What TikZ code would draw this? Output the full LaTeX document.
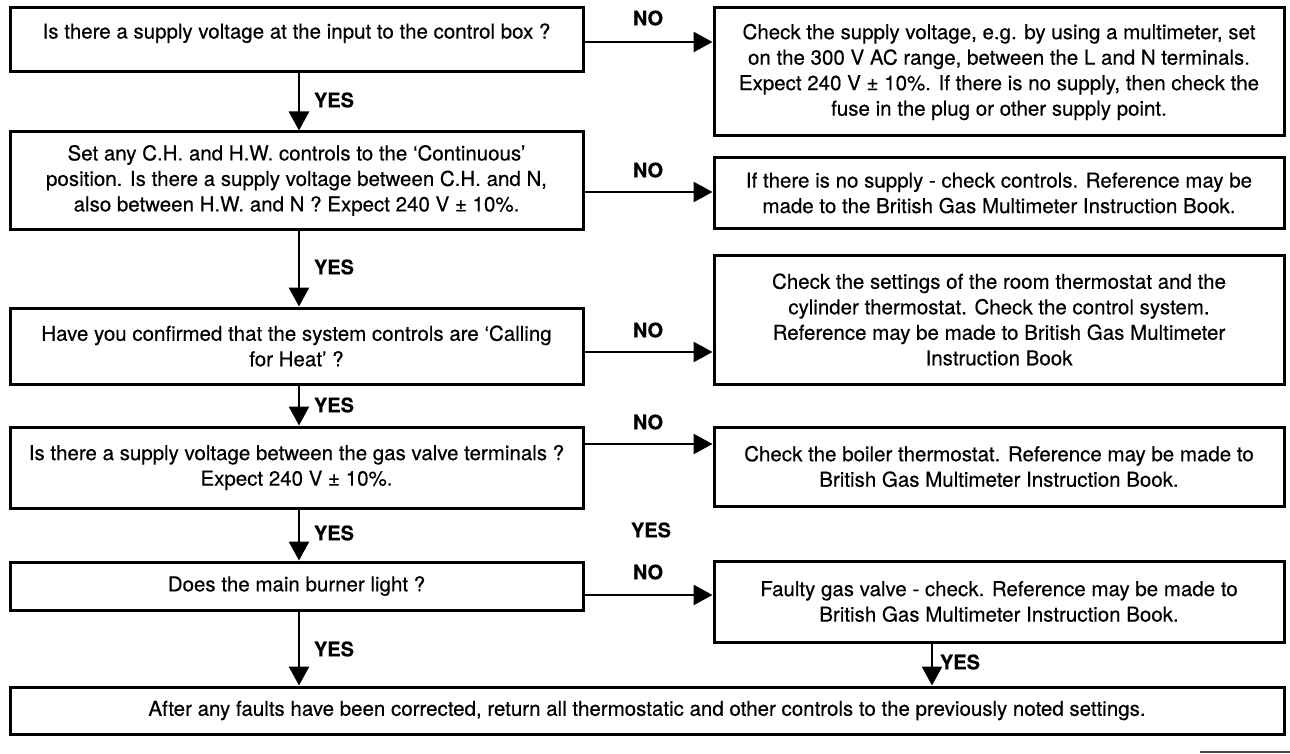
\documentclass[tikz,border=0pt]{standalone}
\usepackage{fontspec}
\setmainfont{TeX Gyre Heros}[FakeBold=0.35]
\usetikzlibrary{arrows.meta}
\begin{document}
\begin{tikzpicture}[x=1pt,y=-1pt,
  box/.style={draw, line width=3pt, align=center, inner sep=0pt,
    font=\fontsize{20.5}{25.5}\selectfont},
  arr/.style={line width=2.7pt, -{Triangle[length=19pt,width=20pt]}},
  lab/.style={font=\fontsize{20}{24}\selectfont\bfseries, inner sep=0pt}]
\useasboundingbox (0,0) rectangle (1290,754);
\fill[white] (0,0) rectangle (1290,754);

% left column
\node[box, minimum width=573pt, minimum height=64pt] (q1) at (296.5,40)
  {Is there a supply voltage at the input to the control box ?\\[-15pt]\strut};
\node[box, minimum width=573pt, minimum height=97pt] (q2) at (296.5,180.5)
  {Set any C.H. and H.W. controls to the `Continuous'\\position. Is there a supply voltage between C.H. and N,\\also between H.W. and N ? Expect 240 V ± 10\%.};
\node[box, minimum width=573pt, minimum height=76pt] (q3) at (296.5,346)
  {Have you confirmed that the system controls are `Calling\\for Heat' ?};
\node[box, minimum width=573pt, minimum height=81pt] (q4) at (296.5,467.5)
  {Is there a supply voltage between the gas valve terminals ?\\Expect 240 V ± 10\%.};
\node[box, minimum width=573pt, minimum height=48pt] (q5) at (296.5,586)
  {Does the main burner light ?};

% right column
\node[box, minimum width=570pt, minimum height=128pt] (r1) at (999,72)
  {Check the supply voltage, e.g. by using a multimeter, set\\on the 300 V AC range, between the L and N terminals.\\Expect 240 V ± 10\%. If there is no supply, then check the\\fuse in the plug or other supply point.};
\node[box, minimum width=570pt, minimum height=70pt] (r2) at (999,193)
  {If there is no supply - check controls. Reference may be\\made to the British Gas Multimeter Instruction Book.};
\node[box, minimum width=570pt, minimum height=129pt] (r3) at (999,319.5)
  {Check the settings of the room thermostat and the\\cylinder thermostat. Check the control system.\\Reference may be made to British Gas Multimeter\\Instruction Book};
\node[box, minimum width=570pt, minimum height=79pt] (r4) at (999,466.5)
  {Check the boiler thermostat. Reference may be made to\\British Gas Multimeter Instruction Book.};
\node[box, minimum width=570pt, minimum height=81pt] (r5) at (999,601.5)
  {Faulty gas valve - check. Reference may be made to\\British Gas Multimeter Instruction Book.};

% bottom
\node[box, minimum width=1274pt, minimum height=47pt] (end) at (647,710.5)
  {After any faults have been corrected, return all thermostatic and other controls to the previously noted settings.};

% helper coordinates
\coordinate (cx) at (299,0);
\coordinate (cr) at (932,0);
\coordinate (h1) at (0,42);
\coordinate (h2) at (0,192);
\coordinate (h3) at (0,352);
\coordinate (h4) at (0,444);
\coordinate (h5) at (0,595);

% NO arrows
\draw[arr] (q1.east |- h1) -- (r1.west |- h1);
\draw[arr] (q2.east |- h2) -- (r2.west |- h2);
\draw[arr] (q3.east |- h3) -- (r3.west |- h3);
\draw[arr] (q4.east |- h4) -- (r4.west |- h4);
\draw[arr] (q5.east |- h5) -- (r5.west |- h5);

% YES arrows
\draw[arr] (q1.south -| cx) -- (q2.north -| cx);
\draw[arr] (q2.south -| cx) -- (q3.north -| cx);
\draw[arr] (q3.south -| cx) -- (q4.north -| cx);
\draw[arr] (q4.south -| cx) -- (q5.north -| cx);
\draw[arr] (q5.south -| cx) -- (end.north -| cx);
\draw[arr] (r5.south -| cr) -- (end.north -| cr);

% labels
\node[lab] (no1) at (648,18) {NO};
\node[lab] (no2) at (648,170) {NO};
\node[lab] (no3) at (648,330) {NO};
\node[lab] (no4) at (648,422) {NO};
\node[lab] (no5) at (648,572) {NO};
\node[lab] (yes1) at (334,100) {YES};
\node[lab] (yes2) at (334,267) {YES};
\node[lab] (yes3) at (334,405) {YES};
\node[lab] (yes4) at (334,533) {YES};
\node[lab] (yes5) at (334,649) {YES};
\node[lab] (yesx) at (651,530) {YES};
\node[lab] (yes6) at (960,662) {YES};

% stray mark at bottom right
\draw[line width=1.5pt, black!70] (1200,752) -- (1290,752);
\end{tikzpicture}
\end{document}
